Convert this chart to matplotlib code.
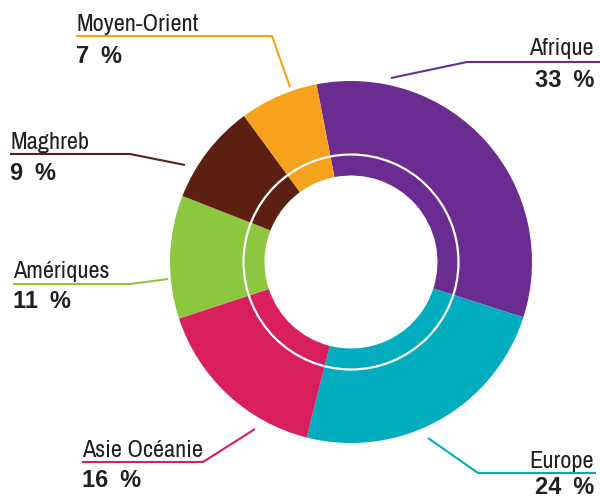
import matplotlib.pyplot as plt

regions = ["Afrique", "Europe", "Asie Océanie", "Amériques", "Maghreb", "Moyen-Orient"]
shares = [33, 24, 16, 11, 9, 7]
colors = ["#6a2c91", "#00acbd", "#d81e5b", "#8dc63f", "#5c2012", "#f7a21d"]

H = 499
NARROW = ["Archivo Narrow", "IBM Plex Sans Condensed", "Liberation Sans", "DejaVu Sans"]
BOLD = ["Liberation Sans", "DejaVu Sans"]


def fy(y):
    # picture rows run downward, axes y runs upward
    return H - y


fig = plt.figure(figsize=(6, 4.99), dpi=100)
ax = fig.add_axes([0, 0, 1, 1])

cx, cy = 351, fy(262)
r_out, r_in = 181, 86.5
ax.pie(shares, colors=colors, startangle=101, counterclock=False,
       radius=r_out, center=(cx, cy),
       wedgeprops=dict(width=r_out - r_in, linewidth=0))
ring = plt.Circle((cx, cy), 107.5, fill=False, color="white", lw=1.6)
ax.add_patch(ring)

# label layout: (text x, label baseline, value baseline, align, leader polyline)
layout = {
    "Afrique": (594, 55, 87, "right", [(600, 62), (467, 62), (391, 78)]),
    "Europe": (594, 468, 494, "right", [(596, 473), (478, 473), (428, 438)]),
    "Asie Océanie": (82, 457, 487, "left", [(82, 462), (203, 462), (255, 429)]),
    "Amériques": (13, 278, 308, "left", [(13, 284), (130, 284), (168, 279)]),
    "Maghreb": (10, 149, 180, "left", [(10, 154), (130, 154), (185, 165)]),
    "Moyen-Orient": (76, 31, 63, "left", [(76, 36), (272, 36), (290, 87)]),
}

for name, share, col in zip(regions, shares, colors):
    tx, yl, yv, ha, pts = layout[name]
    xs = [p[0] for p in pts]
    ys = [fy(p[1]) for p in pts]
    ax.plot(xs, ys, color=col, lw=1.5, solid_capstyle="butt")
    ax.text(tx, fy(yl), name, ha=ha, va="baseline", fontsize=17.5,
            family=NARROW, color="#231f20")
    ax.text(tx, fy(yv), f"{share}\u2002%", ha=ha, va="baseline", fontsize=17,
            fontweight="bold", family=BOLD, color="#231f20")

ax.set_xlim(0, 600)
ax.set_ylim(0, H)
ax.set_aspect("equal")
ax.axis("off")

fig.savefig("out.png", dpi=100)
